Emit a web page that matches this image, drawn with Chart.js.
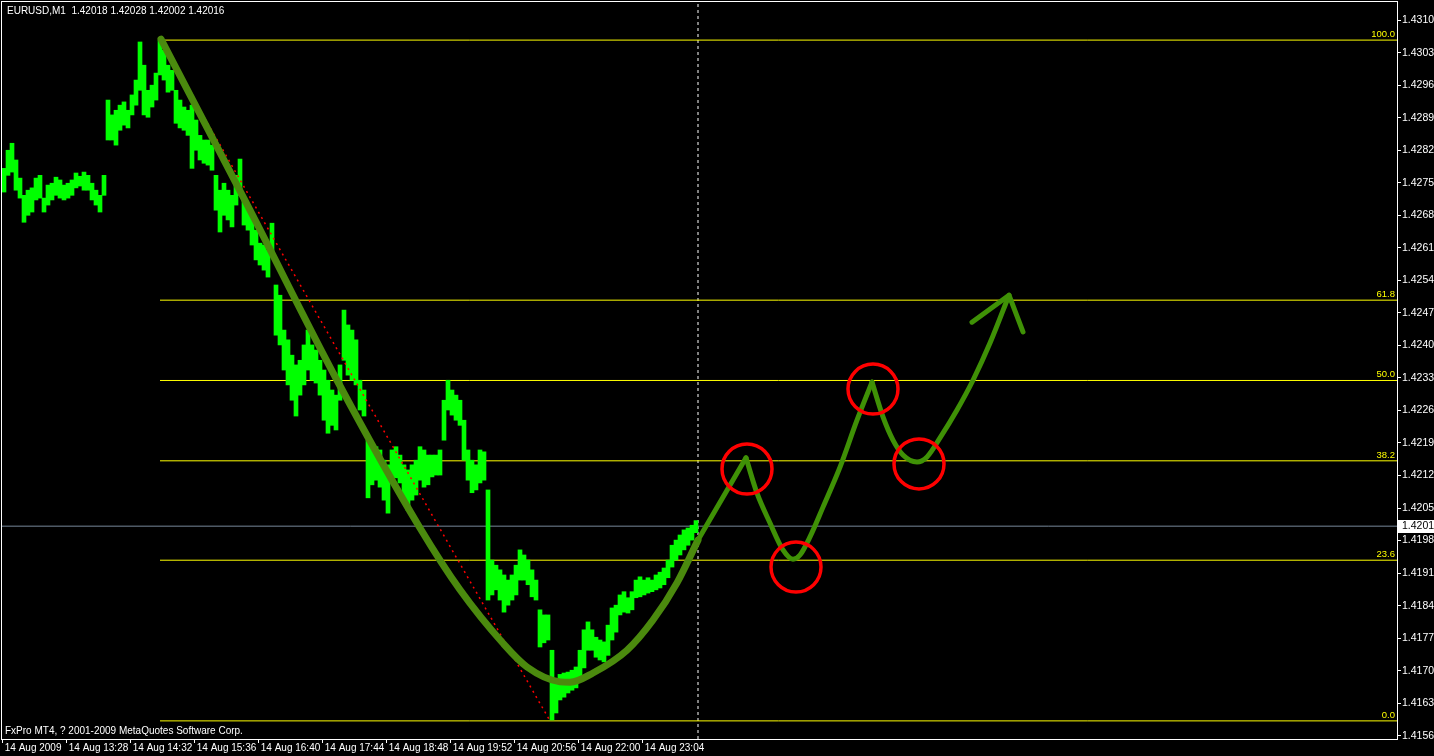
<!DOCTYPE html>
<html>
<head>
<meta charset="utf-8">
<script src="https://cdn.jsdelivr.net/npm/chart.js@4.4.0/dist/chart.umd.min.js"></script>
<style>
  html, body { margin: 0; padding: 0; background: #000; }
</style>
</head>
<body>
<canvas id="c" width="1434" height="756"></canvas>
<script>
// EURUSD M1, 14 Aug 2009 -- minutes counted from 12:24 (left edge of the chart)
const barHigh = [
  1.42786, 1.42825, 1.42840, 1.42804, 1.42765, 1.42728, 1.42739, 1.42744, 1.42765, 1.42771,
  1.42722, 1.42750, 1.42754, 1.42767, 1.42761, 1.42750, 1.42754, 1.42761, 1.42776, 1.42769,
  1.42778, 1.42771, 1.42754, 1.42739, 1.42728, 1.42771, 1.42933, 1.42901, 1.42911, 1.42922,
  1.42929, 1.42911, 1.42944, 1.42976, 1.43058, 1.43008, 1.42954, 1.42965, 1.42991, 1.43062,
  1.43040, 1.43008, 1.42997, 1.42954, 1.42933, 1.42918, 1.42911, 1.42922, 1.42890, 1.42857,
  1.42847, 1.42847, 1.42836, 1.42771, 1.42739, 1.42754, 1.42739, 1.42728, 1.42771, 1.42806,
  1.42718, 1.42707, 1.42685, 1.42653, 1.42625, 1.42621, 1.42610, 1.42668, 1.42535, 1.42513,
  1.42438, 1.42417, 1.42384, 1.42363, 1.42373, 1.42406, 1.42438, 1.42406, 1.42395, 1.42373,
  1.42352, 1.42330, 1.42309, 1.42298, 1.42363, 1.42481, 1.42449, 1.42438, 1.42417, 1.42330,
  1.42309, 1.42201, 1.42190, 1.42187, 1.42180, 1.42158, 1.42148, 1.42180, 1.42187, 1.42169,
  1.42148, 1.42137, 1.42148, 1.42158, 1.42187, 1.42180, 1.42169, 1.42169, 1.42169, 1.42180,
  1.42287, 1.42330, 1.42309, 1.42298, 1.42287, 1.42244, 1.42180, 1.42158, 1.42148, 1.42180,
  1.42176, 1.42094, 1.41943, 1.41932, 1.41922, 1.41911, 1.41900, 1.41911, 1.41932, 1.41965,
  1.41954, 1.41943, 1.41922, 1.41900, 1.41836, 1.41825, 1.41825, 1.41749, 1.41685, 1.41697,
  1.41700, 1.41702, 1.41706, 1.41713, 1.41749, 1.41793, 1.41810, 1.41793, 1.41777, 1.41771,
  1.41767, 1.41803, 1.41840, 1.41846, 1.41868, 1.41875, 1.41862, 1.41875, 1.41900, 1.41907,
  1.41900, 1.41905, 1.41900, 1.41911, 1.41917, 1.41926, 1.41943, 1.41975, 1.41986, 1.41997,
  1.42008, 1.42012, 1.42018, 1.42028
];
const barLow = [
  1.42735, 1.42771, 1.42778, 1.42739, 1.42722, 1.42670, 1.42685, 1.42692, 1.42718, 1.42722,
  1.42692, 1.42707, 1.42718, 1.42728, 1.42722, 1.42718, 1.42722, 1.42728, 1.42744, 1.42748,
  1.42739, 1.42739, 1.42718, 1.42707, 1.42692, 1.42728, 1.42847, 1.42847, 1.42836, 1.42868,
  1.42879, 1.42873, 1.42901, 1.42922, 1.42954, 1.42901, 1.42896, 1.42918, 1.42933, 1.42987,
  1.42976, 1.42950, 1.42954, 1.42883, 1.42873, 1.42868, 1.42857, 1.42786, 1.42825, 1.42804,
  1.42797, 1.42793, 1.42782, 1.42696, 1.42649, 1.42685, 1.42675, 1.42660, 1.42707, 1.42728,
  1.42664, 1.42653, 1.42621, 1.42589, 1.42578, 1.42567, 1.42552, 1.42599, 1.42427, 1.42406,
  1.42352, 1.42320, 1.42287, 1.42253, 1.42298, 1.42320, 1.42352, 1.42330, 1.42324, 1.42298,
  1.42244, 1.42216, 1.42233, 1.42223, 1.42287, 1.42373, 1.42341, 1.42330, 1.42320, 1.42266,
  1.42253, 1.42077, 1.42105, 1.42115, 1.42100, 1.42072, 1.42044, 1.42115, 1.42120, 1.42109,
  1.42072, 1.42050, 1.42072, 1.42083, 1.42115, 1.42100, 1.42105, 1.42122, 1.42126, 1.42126,
  1.42201, 1.42266, 1.42255, 1.42244, 1.42233, 1.42158, 1.42115, 1.42088, 1.42094, 1.42109,
  1.42115, 1.41857, 1.41868, 1.41879, 1.41857, 1.41831, 1.41846, 1.41857, 1.41868, 1.41900,
  1.41900, 1.41890, 1.41864, 1.41857, 1.41756, 1.41765, 1.41771, 1.41599, 1.41614, 1.41642,
  1.41648, 1.41657, 1.41663, 1.41668, 1.41685, 1.41711, 1.41749, 1.41749, 1.41734, 1.41728,
  1.41724, 1.41738, 1.41771, 1.41788, 1.41825, 1.41831, 1.41829, 1.41836, 1.41862, 1.41864,
  1.41868, 1.41872, 1.41875, 1.41879, 1.41883, 1.41890, 1.41905, 1.41928, 1.41943, 1.41954,
  1.41965, 1.41975, 1.41986, 1.42002
];
const barMinutes = barHigh.map((_, i) => 2 + i * 4);
const lastClose = 1.42016;
const nowMinute = 696;

const timeTicks = [0, 64, 128, 192, 256, 320, 384, 448, 512, 576, 640];
const timeLabels = ['14 Aug 2009', '14 Aug 13:28', '14 Aug 14:32', '14 Aug 15:36', '14 Aug 16:40',
  '14 Aug 17:44', '14 Aug 18:48', '14 Aug 19:52', '14 Aug 20:56', '14 Aug 22:00', '14 Aug 23:04'];
const priceTicks = [1.41565, 1.41635, 1.41705, 1.41775, 1.41845, 1.41915, 1.41985, 1.42055,
  1.42125, 1.42195, 1.42265, 1.42335, 1.42405, 1.42475, 1.42545, 1.42615, 1.42685, 1.42755,
  1.42825, 1.42895, 1.42965, 1.43035, 1.43105];

// fibonacci retracement drawn from the high to the low
const swingHigh = 1.43062, swingLow = 1.41597;
const swingHighMinute = 158, swingLowMinute = 548;
const fibRatios = [0, 23.6, 38.2, 50.0, 61.8, 100.0];

// hand drawn green path
const dropMinutes = [159, 248, 335, 418, 458, 501, 525, 558, 568, 591, 625, 651, 675, 696];
const dropPrices  = [1.43064, 1.42696, 1.42330, 1.42012, 1.41879, 1.41764, 1.41713, 1.41681,
  1.41680, 1.41700, 1.41749, 1.41814, 1.41894, 1.41986];
const legAMinutes = [696, 744];
const legAPrices  = [1.41986, 1.42163];
const legBMinutes = [744, 755, 768, 781, 791, 798, 808, 821, 838, 855, 870];
const legBPrices  = [1.42163, 1.42087, 1.42023, 1.41965, 1.41945, 1.41954, 1.41993, 1.42057,
  1.42143, 1.42244, 1.42326];
const legCMinutes = [870, 881, 891, 901, 915, 925, 938, 955, 971, 988, 1007];
const legCPrices  = [1.42326, 1.42251, 1.42201, 1.42169, 1.42154, 1.42165, 1.42206, 1.42266,
  1.42330, 1.42410, 1.42513];
const arrowMinutes = [970, 1007, 1021];
const arrowPrices  = [1.42455, 1.42513, 1.42434];
const circleMinutes = [745, 794, 871, 917];
const circlePrices  = [1.42139, 1.41928, 1.42311, 1.42150];

const X_MAX = 1395, Y_MIN = 1.41558, Y_MAX = 1.43144;

const pts = (xs, ys) => xs.map((x, i) => ({ x: x, y: ys[i] }));
const fibPrice = r => swingLow + (swingHigh - swingLow) * r / 100;

Chart.defaults.font.family = '"Liberation Sans", Arial, sans-serif';
Chart.defaults.font.size = 10;

const datasets = [];
datasets.push({ type: 'scatter', data: pts(circleMinutes, circlePrices), order: 0,
  pointRadius: 25, pointBorderWidth: 3.5, pointBorderColor: '#ff0000',
  pointBackgroundColor: 'rgba(0,0,0,0)', showLine: false });
[[legAMinutes, legAPrices, 0], [legBMinutes, legBPrices, 'monotone'],
 [legCMinutes, legCPrices, 'monotone'], [arrowMinutes, arrowPrices, 0]].forEach(l => {
  datasets.push({ data: pts(l[0], l[1]), order: 1, borderColor: '#3f9106', borderWidth: 5,
    pointRadius: 0, borderCapStyle: 'round', borderJoinStyle: 'round',
    cubicInterpolationMode: l[2] === 'monotone' ? 'monotone' : 'default', tension: 0 });
});
datasets.push({ data: pts(dropMinutes, dropPrices), order: 2, borderColor: '#4b8a0e',
  borderWidth: 7, pointRadius: 0, cubicInterpolationMode: 'monotone', borderCapStyle: 'round' });
datasets.push({ data: [{ x: swingHighMinute, y: swingHigh }, { x: swingLowMinute, y: swingLow }],
  order: 3, borderColor: '#ff0000', borderWidth: 1.5, borderDash: [2, 4], pointRadius: 0 });
datasets.push({ type: 'bar', data: barMinutes.map((m, i) => ({ x: m, y: [barLow[i], barHigh[i]] })),
  order: 4, backgroundColor: '#00ff00', borderWidth: 0, barThickness: 4 });
fibRatios.forEach(r => {
  datasets.push({ data: [{ x: swingHighMinute, y: fibPrice(r) }, { x: X_MAX, y: fibPrice(r) }],
    order: 5, borderColor: '#ffff00', borderWidth: 1, pointRadius: 0 });
});
datasets.push({ data: [{ x: 0, y: lastClose }, { x: X_MAX, y: lastClose }], order: 6,
  borderColor: '#778899', borderWidth: 1, pointRadius: 0 });
datasets.push({ data: [{ x: nowMinute, y: Y_MIN }, { x: nowMinute, y: Y_MAX }], order: 7,
  borderColor: '#ffffff', borderWidth: 1, borderDash: [3, 3], pointRadius: 0 });

const mt4Extras = {
  id: 'mt4Extras',
  afterDraw(chart) {
    const ctx = chart.ctx, a = chart.chartArea, y = chart.scales.y;
    ctx.save();
    ctx.strokeStyle = '#fff';
    ctx.lineWidth = 1;
    ctx.strokeRect(Math.round(a.left) - 0.5, Math.round(a.top) - 0.5,
      Math.round(a.right - a.left) + 1, Math.round(a.bottom - a.top) + 1);
    // fibo level captions
    ctx.font = '9.5px "Liberation Sans"';
    ctx.fillStyle = '#ffff00';
    ctx.textAlign = 'right';
    ctx.textBaseline = 'alphabetic';
    fibRatios.forEach(r => ctx.fillText(r.toFixed(1), a.right - 2, y.getPixelForValue(fibPrice(r)) - 3));
    // header and footer
    ctx.font = '10px "Liberation Sans"';
    ctx.fillStyle = '#fff';
    ctx.textAlign = 'left';
    ctx.fillText('EURUSD,M1  1.42018 1.42028 1.42002 1.42016', 7, 14);
    ctx.fillText('FxPro MT4, ? 2001-2009 MetaQuotes Software Corp.', 5, 734);
    // current price marker
    const py = Math.round(y.getPixelForValue(lastClose));
    ctx.fillStyle = '#fff';
    ctx.fillRect(a.right + 1, py - 6, 40, 13);
    ctx.fillStyle = '#000';
    ctx.font = '10.5px "Liberation Sans"';
    ctx.textBaseline = 'middle';
    ctx.fillText(lastClose.toFixed(5), a.right + 5, py + 0.5);
    ctx.restore();
  }
};

new Chart(document.getElementById('c'), {
  type: 'line',
  data: { datasets: datasets },
  options: {
    responsive: false,
    animation: false,
    events: [],
    layout: { autoPadding: false, padding: { left: 2, top: 2, right: 0, bottom: 0 } },
    plugins: { legend: { display: false }, tooltip: { enabled: false } },
    scales: {
      x: {
        type: 'linear', min: 0, max: X_MAX, offset: false,
        afterBuildTicks: s => { s.ticks = timeTicks.map(v => ({ value: v })); },
        afterFit: s => { s.height = 17; s.paddingLeft = 0; s.paddingRight = 0; },
        grid: { display: true, drawOnChartArea: false, tickLength: 4, color: '#fff', offset: false },
        border: { display: true, color: '#fff' },
        ticks: { color: '#fff', align: 'start', maxRotation: 0, autoSkip: false, padding: -1,
          callback: v => ' ' + timeLabels[timeTicks.indexOf(v)] }
      },
      y: {
        position: 'right', min: Y_MIN, max: Y_MAX,
        afterBuildTicks: s => { s.ticks = priceTicks.map(v => ({ value: v })); },
        afterFit: s => { s.width = 37; s.paddingTop = 0; s.paddingBottom = 0; },
        grid: { display: true, drawOnChartArea: false, tickLength: 4, color: '#fff' },
        border: { display: true, color: '#fff' },
        ticks: { color: '#fff', padding: 1, font: { size: 10.5 }, callback: v => v.toFixed(5) }
      }
    }
  },
  plugins: [mt4Extras]
});
</script>
</body>
</html>
